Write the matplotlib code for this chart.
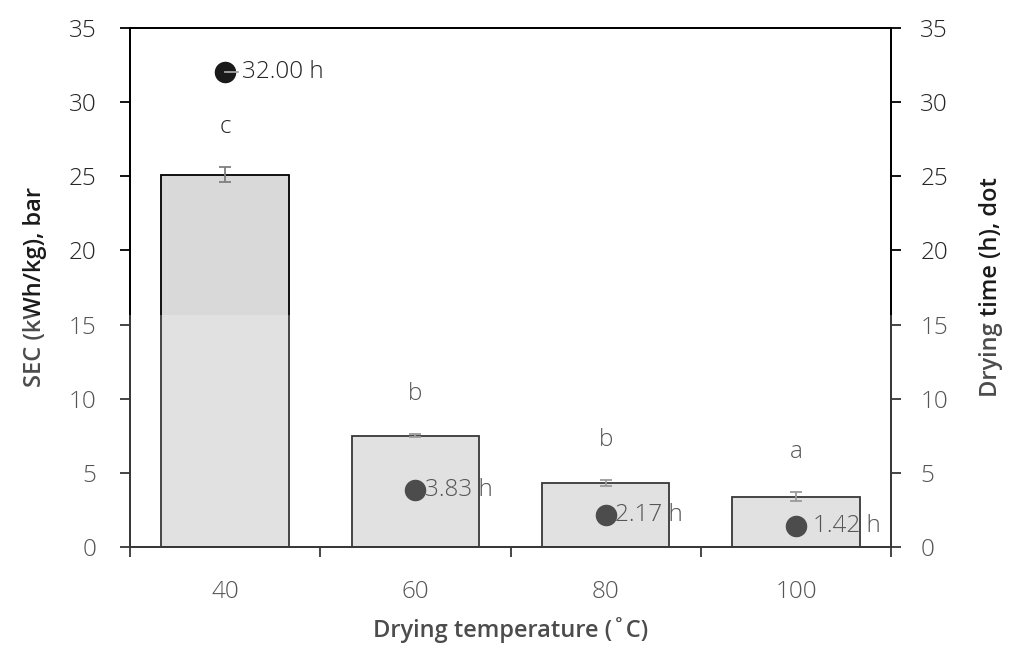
import matplotlib
matplotlib.use('Agg')
import matplotlib.pyplot as plt
import matplotlib.patches as patches
import numpy as np

# Drying temperature categories
temps = ['40', '60', '80', '100']
# Specific energy consumption (kWh/kg), mean and error
sec = [25.1, 7.5, 4.3, 3.4]
sec_err = [0.5, 0.1, 0.2, 0.3]
groups = ['c', 'b', 'b', 'a']
# Drying time (h)
dry_time = [32.00, 3.83, 2.17, 1.42]
# horizontal gap between each dot and its label (points)
label_pad = [12, 7, 7, 12]

plt.rcParams['font.family'] = ['Open Sans', 'DejaVu Sans']
plt.rcParams['font.weight'] = 'light'

fig = plt.figure(figsize=(10.15, 6.59), dpi=100)
ax = fig.add_axes([0.128, 0.170, 0.750, 0.7875])
ax2 = ax.twinx()

x = np.arange(len(temps))
ax.bar(x, sec, width=0.67, color='#d9d9d9', edgecolor='black', linewidth=1.3, zorder=2)
ax.errorbar(x, sec, yerr=sec_err, fmt='none', ecolor='#7f7f7f', elinewidth=1.3,
            capsize=4, capthick=1.3, zorder=3)
for xi, s, e, g in zip(x, sec, sec_err, groups):
    ax.text(xi, s + e + 2.7, g, ha='center', va='center', fontsize=17.5, color='#262626')

ax2.scatter(x, dry_time, s=210, color='#1a1a1a', zorder=4)
ax2.plot([x[0], x[0] + 0.07], [dry_time[0], dry_time[0]], color='#a6a6a6', lw=1.3, zorder=5)
for xi, t, p in zip(x, dry_time, label_pad):
    ax2.annotate(f'{t:.2f} h', (xi, t), xytext=(p, 0), textcoords='offset points',
                 ha='left', va='center', fontsize=17.5, color='#262626')

for a in (ax, ax2):
    a.set_ylim(0, 35)
    a.set_yticks(range(0, 36, 5))
    a.set_xlim(-0.5, len(temps) - 0.5)
    for sp in a.spines.values():
        sp.set_linewidth(1.3)
        sp.set_color('black')

ax.tick_params(axis='y', direction='out', length=7, width=1.3, labelsize=17.5,
               labelcolor='#262626', pad=17)
ax2.tick_params(axis='y', direction='out', length=7, width=1.3, labelsize=17.5,
                labelcolor='#262626', pad=14)

# category boundaries as major ticks, labels at the centers
ax.set_xticks(np.arange(-0.5, len(temps), 1.0))
ax.set_xticklabels([])
ax.tick_params(axis='x', which='major', direction='out', length=7, width=1.3)
ax.set_xticks(x, minor=True)
ax.set_xticklabels(temps, minor=True)
ax.tick_params(axis='x', which='minor', length=0, pad=24, labelsize=17.5, labelcolor='#262626')

label_font = dict(fontsize=17, color='#1a1a1a', fontweight='semibold',
                  family=['Open Sans', 'DejaVu Sans'])
ax.set_xlabel('Drying temperature (˚C)', labelpad=9, **label_font)
ax.set_ylabel('SEC (kWh/kg), bar', labelpad=16, **label_font)
ax2.set_ylabel('Drying time (h), dot', labelpad=22, **label_font)

# faint watermark haze over the lower half of the page
fig.patches.append(patches.Rectangle((0, 0), 1, 0.522, transform=fig.transFigure,
                                     facecolor='white', alpha=0.22, edgecolor='none', zorder=10))

fig.savefig('out.png', dpi=100)
